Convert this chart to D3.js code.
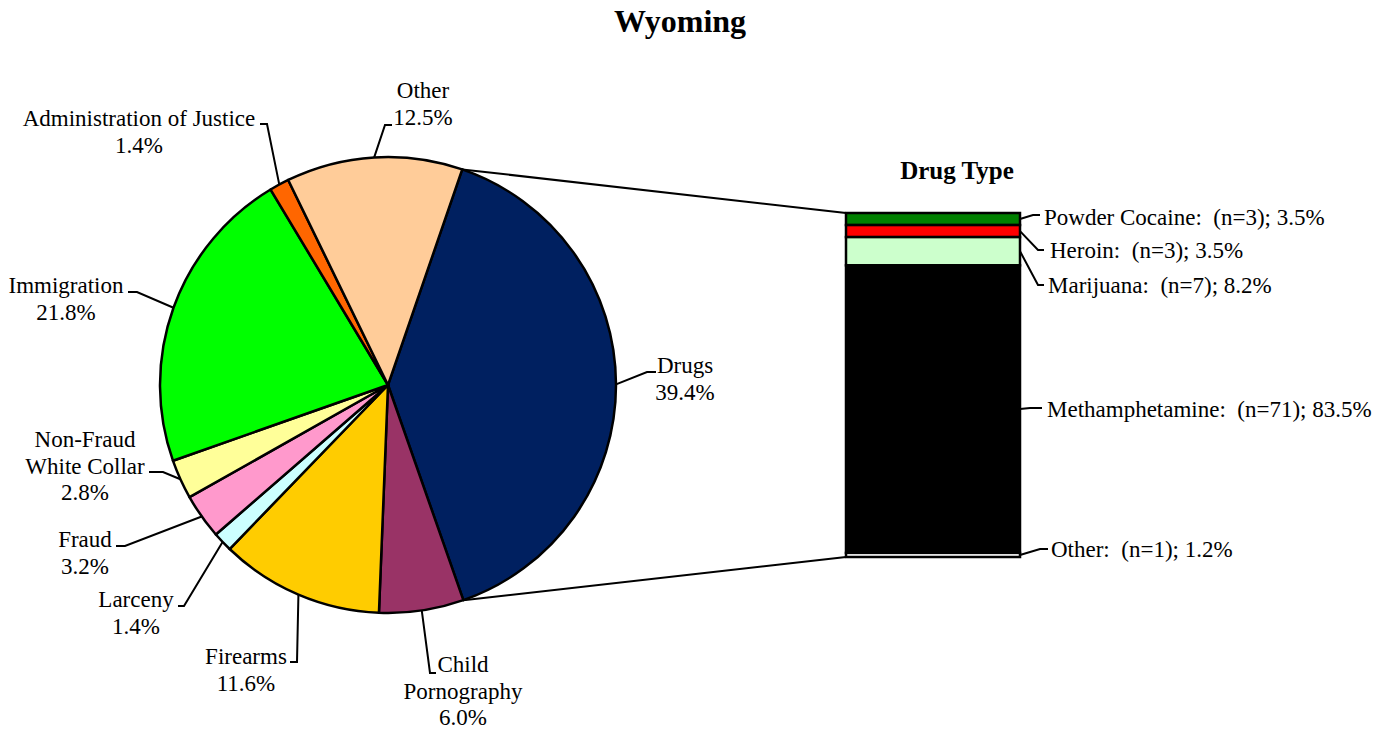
<!DOCTYPE html>
<html>
<head>
<meta charset="utf-8">
<script src="https://cdn.jsdelivr.net/npm/d3@7"></script>
<style>
  body { margin: 0; background: #fff; }
  text { font-family: "Liberation Serif", "Times New Roman", serif; fill: #000; }
</style>
</head>
<body>
<div id="chart"></div>
<script>
// offense categories, clockwise from Drugs
var categories = ["Drugs", "Child\nPornography", "Firearms", "Larceny", "Fraud",
    "Non-Fraud\nWhite Collar", "Immigration", "Administration of Justice", "Other"];
var percents = [39.4, 6.0, 11.6, 1.4, 3.2, 2.8, 21.8, 1.4, 12.5];
var colors = ["#002060", "#993366", "#FFCC00", "#CCFFFF", "#FF99CC",
    "#FFFF99", "#00FF00", "#FF6600", "#FFCC99"];

// drug type breakdown, top to bottom
var drugTypes = ["Powder Cocaine", "Heroin", "Marijuana", "Methamphetamine", "Other"];
var drugCounts = [3, 3, 7, 71, 1];
var drugPercents = [3.5, 3.5, 8.2, 83.5, 1.2];
var drugColors = ["#008000", "#FF0000", "#CCFFCC", "#000000", "#FFFFFF"];

var width = 1380;
var height = 729;
var cx = 388, cy = 385, radius = 228;
var startAngle = 19 * Math.PI / 180;
var labelSize = "23px";

var svg = d3.select("#chart").append("svg")
    .attr("width", width)
    .attr("height", height);

/*****************  Title **********************/
svg.append("text")
    .attr("x", 680)
    .attr("y", 32)
    .attr("text-anchor", "middle")
    .style("font-size", "32px")
    .style("font-weight", "bold")
    .text("Wyoming");

/*****************  Pie **********************/
var pie = d3.pie()
    .sort(null)
    .value(function (d) { return d; })
    .startAngle(startAngle)
    .endAngle(startAngle + 2 * Math.PI);

var arcs = pie(percents);
var arc = d3.arc().innerRadius(0).outerRadius(radius);

var pieG = svg.append("g").attr("transform", "translate(" + cx + "," + cy + ")");

pieG.selectAll(".slice")
    .data(arcs)
    .enter()
    .append("path")
    .attr("class", "slice")
    .attr("d", arc)
    .style("fill", function (d, i) { return colors[i]; })
    .style("stroke", "#000")
    .style("stroke-width", 2.5)
    .style("stroke-linejoin", "round");

function edgePoint(angle) {
    return [cx + radius * Math.sin(angle), cy - radius * Math.cos(angle)];
}

// label placement: elbow of the leader, end of the leader, text centre, first baseline
var pieLabelLayout = [
    { elbow: [647, 372], end: [656, 372], tx: 685, ty: 373 },
    { elbow: [430, 673], end: [436, 673], tx: 463, ty: 672 },
    { elbow: [297, 662], end: [290, 662], tx: 246, ty: 664 },
    { elbow: [184, 606], end: [178, 606], tx: 136, ty: 607 },
    { elbow: [125, 546], end: [116, 546], tx: 85, ty: 547 },
    { elbow: [163, 472], end: [149, 472], tx: 85, ty: 447 },
    { elbow: [137, 292], end: [128, 292], tx: 66, ty: 293 },
    { elbow: [267, 124], end: [260, 124], tx: 139, ty: 126 },
    { elbow: [385, 125], end: [392, 125], tx: 423, ty: 98 }
];

var lineGap = 26.5;

arcs.forEach(function (d, i) {
    var lay = pieLabelLayout[i];
    var mid = (d.startAngle + d.endAngle) / 2;
    var p0 = edgePoint(mid);
    svg.append("polyline")
        .attr("points", [p0, lay.elbow, lay.end].map(function (p) { return p.join(","); }).join(" "))
        .style("fill", "none")
        .style("stroke", "#000")
        .style("stroke-width", 2);

    var lines = categories[i].split("\n");
    lines.push(percents[i].toFixed(1) + "%");
    var t = svg.append("text")
        .attr("text-anchor", "middle")
        .style("font-size", labelSize);
    lines.forEach(function (l, k) {
        t.append("tspan")
            .attr("x", lay.tx)
            .attr("y", lay.ty + k * lineGap)
            .text(l);
    });
});

/*****************  Drug Type Bar **********************/
var barX = 846, barW = 174;
var barTop = 213, barBottom = 557;

var y = d3.scaleLinear()
    .domain([0, d3.sum(drugPercents)])
    .range([barTop, barBottom]);

var stacked = [];
var acc = 0;
drugPercents.forEach(function (v, i) {
    stacked.push({ y0: acc, y1: acc + v, i: i });
    acc += v;
});

// connector lines from the Drugs slice to the bar
var drugsArc = arcs[0];
var c1 = edgePoint(drugsArc.startAngle);
var c2 = edgePoint(drugsArc.endAngle);
svg.append("line")
    .attr("x1", c1[0]).attr("y1", c1[1])
    .attr("x2", barX).attr("y2", y(0))
    .style("stroke", "#000").style("stroke-width", 2);
svg.append("line")
    .attr("x1", c2[0]).attr("y1", c2[1])
    .attr("x2", barX).attr("y2", y(acc))
    .style("stroke", "#000").style("stroke-width", 2);

svg.selectAll(".seg")
    .data(stacked)
    .enter()
    .append("rect")
    .attr("class", "seg")
    .attr("x", barX)
    .attr("y", function (d) { return y(d.y0); })
    .attr("width", barW)
    .attr("height", function (d) { return y(d.y1) - y(d.y0); })
    .style("fill", function (d) { return drugColors[d.i]; })
    .style("stroke", "#000")
    .style("stroke-width", 2.5);

svg.append("text")
    .attr("x", 957)
    .attr("y", 179)
    .attr("text-anchor", "middle")
    .style("font-size", "25px")
    .style("font-weight", "bold")
    .text("Drug Type");

// bar label placement: elbow, end, text start, baseline
var barLabelLayout = [
    { elbow: [1033, 215], end: [1040, 215], tx: 1044, ty: 225 },
    { elbow: [1038, 250], end: [1044, 250], tx: 1050, ty: 258 },
    { elbow: [1038, 285], end: [1044, 285], tx: 1048, ty: 293 },
    { elbow: [1030, 408], end: [1042, 408], tx: 1047, ty: 417 },
    { elbow: [1040, 549], end: [1048, 549], tx: 1051, ty: 557 }
];

stacked.forEach(function (d, i) {
    var lay = barLabelLayout[i];
    var p0 = [barX + barW, (y(d.y0) + y(d.y1)) / 2];
    svg.append("polyline")
        .attr("points", [p0, lay.elbow, lay.end].map(function (p) { return p.join(","); }).join(" "))
        .style("fill", "none")
        .style("stroke", "#000")
        .style("stroke-width", 2);
    svg.append("text")
        .attr("x", lay.tx)
        .attr("y", lay.ty)
        .style("font-size", labelSize)
        .style("white-space", "pre")
        .text(drugTypes[i] + ":  (n=" + drugCounts[i] + "); " + drugPercents[i].toFixed(1) + "%");
});
</script>
</body>
</html>
